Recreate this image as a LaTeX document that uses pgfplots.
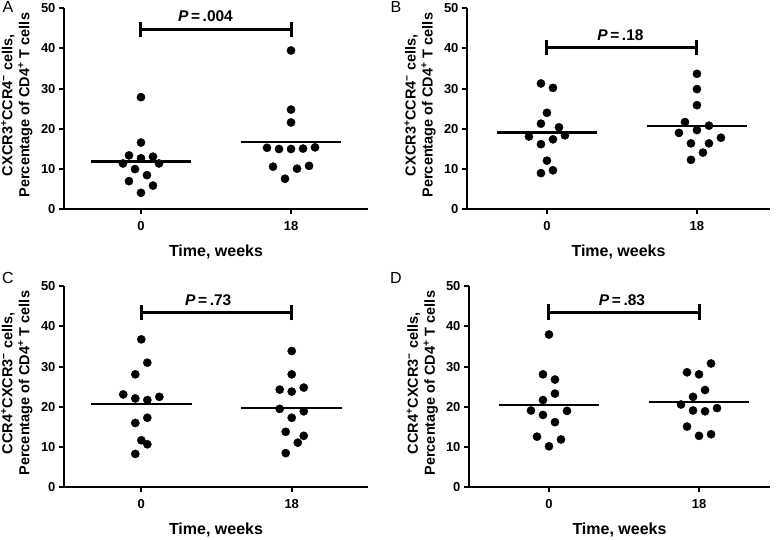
\documentclass[border=0pt]{standalone}
\usepackage{fontspec}
\setmainfont{Liberation Sans}
\usepackage{pgfplots}
\pgfplotsset{compat=1.18}

\pgfplotsset{
  panel/.style={
    scale only axis, height=201pt, ymin=0, ymax=50,
    axis lines=left, axis line style={-, line width=2.2pt},
    tick align=outside, major tick length=5pt,
    tick style={line width=2pt, black},
    ytick={0,10,...,50}, xtick={0,1}, xticklabels={0,18},
    /pgf/number format/assume math mode=true,
    ticklabel style={font=\fontsize{13}{15}\selectfont\bfseries},
    xticklabel style={yshift=-3.5pt},
    xlabel={Time, weeks},
    xlabel style={font=\fontsize{16}{18}\selectfont\bfseries,
      at={(axis description cs:0.5,-0.237)}, anchor=base},
    ylabel style={font=\fontsize{14.5}{17}\selectfont\bfseries, align=center,
      at={(axis description cs:-0.155,0.518)}, anchor=center},
    clip=false,
  },
  dots/.style={only marks, mark=*, mark size=4.1pt, black},
  med/.style={line width=2.2pt, black, no marks},
  brk/.style={line width=3pt, black, no marks},
}
\newcommand{\pfont}{\fontsize{15.5}{17}\selectfont\bfseries}
\newcommand{\lfont}{\fontsize{16}{18}\selectfont}

\begin{document}
\begin{tikzpicture}
\useasboundingbox (0,0) rectangle (777pt,540pt);

% A
\begin{axis}[panel, at={(64pt,330.7pt)}, anchor=south west, width=304pt,
  xmin=-0.513, xmax=1.513,
  ylabel={CXCR3\textsuperscript{+}CCR4\textsuperscript{−} cells,\\Percentage of CD4\textsuperscript{+} T cells}]
\addplot[dots] coordinates {(0,27.9) (0,16.6) (-0.08,13.4) (0,12.7) (0.08,13.1) (-0.12,11.4) (0.12,11.4) (-0.04,10.0) (0.04,8.5) (-0.08,7.0) (0.08,5.9) (0,4.1)};
\addplot[dots] coordinates {(1,39.5) (1,24.8) (1,21.6) (0.84,15.3) (0.92,15.0) (1,15.0) (1.08,15.1) (1.16,15.4) (0.88,10.6) (1.04,10.1) (1.12,10.8) (0.96,7.6)};
\addplot[med] coordinates {(-0.335,11.9) (0.335,11.9)};
\addplot[med] coordinates {(0.665,16.7) (1.335,16.7)};
\addplot[brk] coordinates {(0,42.9) (0,46.7)};
\addplot[brk] coordinates {(1,42.9) (1,46.7)};
\addplot[brk] coordinates {(0,44.8) (1,44.8)};
\node[font=\pfont, anchor=base] at (axis cs:0.43,46.7) {\textit{P}\,=\,.004};
\end{axis}

% B
\begin{axis}[panel, at={(467pt,330.7pt)}, anchor=south west, width=303pt,
  xmin=-0.533, xmax=1.487,
  ylabel={CXCR3\textsuperscript{+}CCR4\textsuperscript{−} cells,\\Percentage of CD4\textsuperscript{+} T cells}]
\addplot[dots] coordinates {(-0.04,31.3) (0.04,30.2) (0,24.0) (-0.04,21.3) (0.08,20.4) (-0.12,18.1) (0.12,18.4) (-0.04,16.2) (0.04,17.4) (0,12.1) (-0.04,9.0) (0.04,9.7)};
\addplot[dots] coordinates {(1,33.7) (1,29.9) (1,25.9) (0.92,21.7) (1.08,20.8) (0.88,19.0) (1,19.7) (0.96,16.4) (1.08,16.4) (1.16,17.8) (1.04,14.1) (0.96,12.3)};
\addplot[med] coordinates {(-0.335,19.1) (0.335,19.1)};
\addplot[med] coordinates {(0.665,20.7) (1.335,20.7)};
\addplot[brk] coordinates {(0,38.3) (0,42.1)};
\addplot[brk] coordinates {(1,38.3) (1,42.1)};
\addplot[brk] coordinates {(0,40.2) (1,40.2)};
\node[font=\pfont, anchor=base] at (axis cs:0.49,41.9) {\textit{P}\,=\,.18};
\end{axis}

% C
\begin{axis}[panel, at={(64pt,52.7pt)}, anchor=south west, width=304pt,
  xmin=-0.514, xmax=1.507,
  ylabel={CCR4\textsuperscript{+}CXCR3\textsuperscript{−} cells,\\Percentage of CD4\textsuperscript{+} T cells}]
\addplot[dots] coordinates {(0,36.8) (0.04,31.0) (-0.04,28.1) (-0.12,23.1) (-0.04,22.1) (0.04,21.7) (0.12,22.5) (0.04,17.3) (-0.04,16.0) (0,11.7) (0.04,10.7) (-0.04,8.3)};
\addplot[dots] coordinates {(1,33.9) (1,28.1) (0.92,24.3) (1,23.8) (1.08,24.8) (0.92,19.5) (1.08,18.9) (1,17.3) (0.96,13.8) (1.08,12.8) (1.04,11.1) (0.96,8.5)};
\addplot[med] coordinates {(-0.335,20.8) (0.335,20.8)};
\addplot[med] coordinates {(0.665,19.8) (1.335,19.8)};
\addplot[brk] coordinates {(0,41.6) (0,45.4)};
\addplot[brk] coordinates {(1,41.6) (1,45.4)};
\addplot[brk] coordinates {(0,43.5) (1,43.5)};
\node[font=\pfont, anchor=base] at (axis cs:0.445,45.3) {\textit{P}\,=\,.73};
\end{axis}

% D
\begin{axis}[panel, at={(469pt,52.7pt)}, anchor=south west, width=301pt,
  xmin=-0.533, xmax=1.473,
  ylabel={CCR4\textsuperscript{+}CXCR3\textsuperscript{−} cells,\\Percentage of CD4\textsuperscript{+} T cells}]
\addplot[dots] coordinates {(0,38.0) (-0.04,28.1) (0.04,26.8) (0.04,23.3) (-0.04,21.7) (-0.12,19.1) (0.12,19.0) (-0.04,18.0) (0.04,16.2) (-0.08,12.6) (0.08,11.9) (0,10.2)};
\addplot[dots] coordinates {(1.08,30.8) (0.92,28.6) (1,28.1) (1.04,24.2) (0.96,22.5) (0.88,20.6) (0.96,19.1) (1.04,18.9) (1.12,19.7) (0.92,15.1) (1,12.8) (1.08,13.2)};
\addplot[med] coordinates {(-0.335,20.4) (0.335,20.4)};
\addplot[med] coordinates {(0.665,21.2) (1.335,21.2)};
\addplot[brk] coordinates {(0,41.7) (0,45.5)};
\addplot[brk] coordinates {(1,41.7) (1,45.5)};
\addplot[brk] coordinates {(0,43.6) (1,43.6)};
\node[font=\pfont, anchor=base] at (axis cs:0.487,45.3) {\textit{P}\,=\,.83};
\end{axis}

\node[font=\lfont] at (8pt,532.5pt) {A};
\node[font=\lfont] at (396pt,532.5pt) {B};
\node[font=\lfont] at (8pt,262pt) {C};
\node[font=\lfont] at (396pt,262pt) {D};
\end{tikzpicture}
\end{document}
